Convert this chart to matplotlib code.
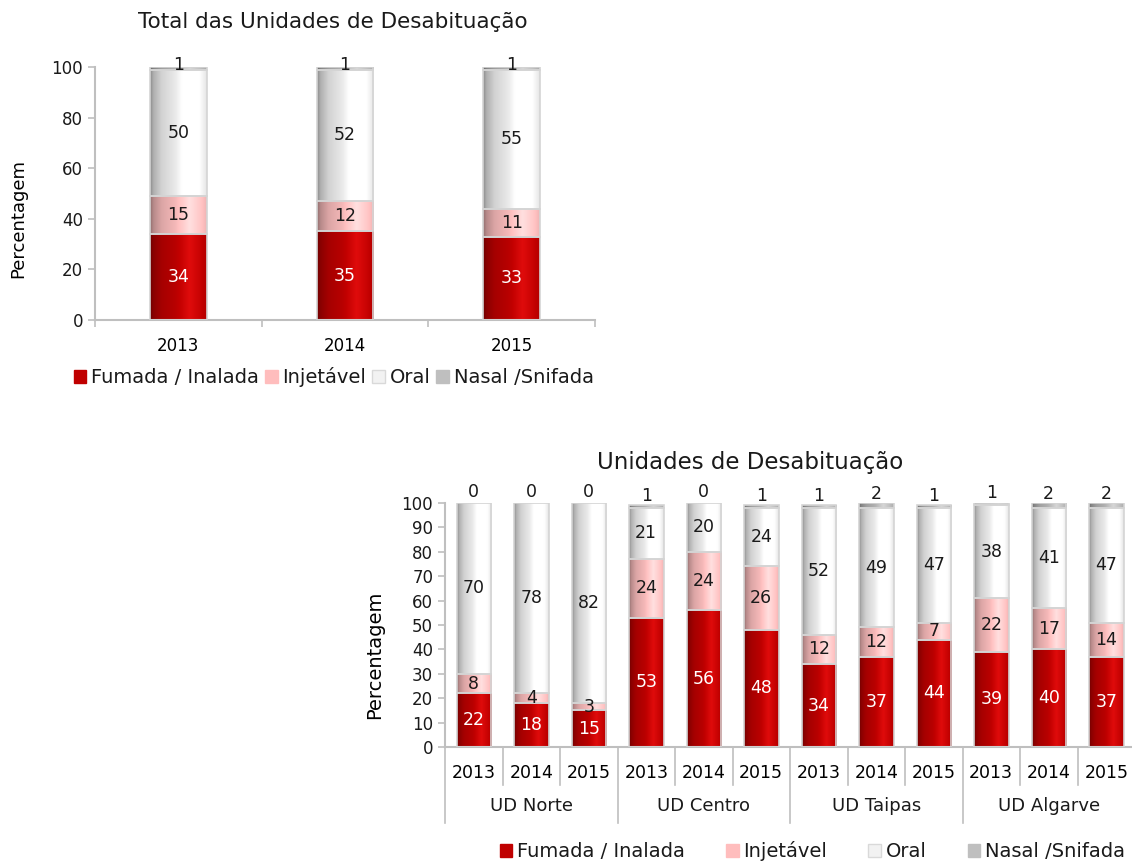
import numpy as np
import matplotlib.pyplot as plt
from matplotlib.patches import Patch, Rectangle
from matplotlib.colors import to_rgb

plt.rcParams['font.family'] = ['DejaVu Sans']
plt.rcParams['text.color'] = '#1a1a1a'

# ---- dados: total ----
anos_total = ['2013', '2014', '2015']
total_fumada = [34, 35, 33]
total_injetavel = [15, 12, 11]
total_oral = [50, 52, 55]
total_nasal = [1, 1, 1]

# ---- dados: por unidade ----
unidades = ['UD Norte', 'UD Centro', 'UD Taipas', 'UD Algarve']
anos_ud = ['2013', '2014', '2015'] * 4
ud_fumada = [22, 18, 15, 53, 56, 48, 34, 37, 44, 39, 40, 37]
ud_injetavel = [8, 4, 3, 24, 24, 26, 12, 12, 7, 22, 17, 14]
ud_oral = [70, 78, 82, 21, 20, 24, 52, 49, 47, 38, 41, 47]
ud_nasal = [0, 0, 0, 1, 0, 1, 1, 2, 1, 1, 2, 2]

series_names = ['Fumada / Inalada', 'Injetável', 'Oral', 'Nasal /Snifada']
base_colors = ['#c00000', '#ffc0c0', '#f4f4f4', '#b8b8b8']
legend_colors = ['#c00000', '#ffbdbd', '#f2f2f2', '#bfbfbf']
label_colors = ['white', '#1a1a1a', '#1a1a1a', '#1a1a1a']

# perfil de brilho do "cilindro" (esquerda escura -> realce -> borda)
prof_t = [0.0, 0.06, 0.2, 0.45, 0.7, 0.88, 1.0]
prof_f = [0.58, 0.72, 0.86, 0.96, 1.15, 1.04, 0.94]


def cyl_bar(ax, x, bottom, height, width, color):
    if height <= 0:
        return
    t = np.linspace(0, 1, 80)
    f = np.interp(t, prof_t, prof_f)[:, None]
    rgb = np.array(to_rgb(color))[None, :]
    img = np.clip(rgb * f, 0, 1) + np.clip(f - 1, 0, None) * 0.3 * (1 - rgb)
    img = np.clip(img, 0, 1)[None, :, :]
    x0, x1 = x - width / 2, x + width / 2
    ax.imshow(img, extent=(x0, x1, bottom, bottom + height), aspect='auto',
              interpolation='bilinear', zorder=2)
    ax.add_patch(Rectangle((x0, bottom), width, height, fill=False,
                           edgecolor='#d4d4d4', lw=1.2, zorder=3))


def stacked(ax, series, width, fs, nasal_off):
    n = len(series[0])
    bottoms = np.zeros(n)
    for k, vals in enumerate(series):
        for i, v in enumerate(vals):
            cyl_bar(ax, i, bottoms[i], v, width, base_colors[k])
            if k < 3:
                ax.text(i, bottoms[i] + v / 2, str(v), ha='center', va='center',
                        fontsize=fs, color=label_colors[k], zorder=5)
            else:
                ax.annotate(str(v), (i, bottoms[i] + v / 2), xytext=(0, nasal_off),
                            textcoords='offset points', ha='center', va='center',
                            fontsize=fs, color=label_colors[k], zorder=5,
                            annotation_clip=False)
        bottoms += np.array(vals)
    ax.set_xlim(-0.5, n - 0.5)
    ax.set_ylim(0, 100)


def style_axes(ax):
    for s in ['top', 'right']:
        ax.spines[s].set_visible(False)
    for s in ['left', 'bottom']:
        ax.spines[s].set_color('#bfbfbf')
        ax.spines[s].set_linewidth(1.5)
    ax.tick_params(axis='y', colors='#bfbfbf', labelcolor='#1a1a1a', labelsize=12,
                   length=5, width=1.2)


fig = plt.figure(figsize=(11.32, 8.61), dpi=100)
W, H = 1132, 861

# ===== grafico 1: total =====
ax1 = fig.add_axes([95 / W, 1 - 320 / H, 500 / W, 253 / H])
stacked(ax1, [total_fumada, total_injetavel, total_oral, total_nasal], 0.34, 12.5, 2)
style_axes(ax1)
ax1.set_yticks(range(0, 101, 20))
ax1.set_xticks(range(3))
ax1.set_xticklabels(anos_total)
ax1.set_xticks(np.arange(-0.5, 3, 1), minor=True)
ax1.tick_params(axis='x', which='major', length=0, labelsize=12, pad=12)
ax1.tick_params(axis='x', which='minor', length=5, width=1.2, colors='#bfbfbf')
ax1.set_ylabel('Percentagem', fontsize=13)
ax1.yaxis.set_label_coords(-0.136, 0.40)
fig.text(333 / W, 1 - 22 / H, 'Total das Unidades de Desabituação', fontsize=15.5,
         ha='center', va='center')
handles = [Patch(facecolor=c, edgecolor='#d9d9d9' if c == '#f2f2f2' else c)
           for c in legend_colors]
fig.legend(handles, series_names, loc='center left', bbox_to_anchor=(64 / W, 1 - 377 / H),
           ncol=4, frameon=False, fontsize=14, handlelength=0.65, handleheight=0.65,
           handletextpad=0.25, columnspacing=0.3, borderpad=0)

# ===== grafico 2: por unidade =====
ax2 = fig.add_axes([445 / W, 1 - 747 / H, 690 / W, 244 / H])
stacked(ax2, [ud_fumada, ud_injetavel, ud_oral, ud_nasal], 0.6, 12.5, 8)
style_axes(ax2)
ax2.set_yticks(range(0, 101, 10))
ax2.set_xticks(range(12))
ax2.set_xticklabels(anos_ud)
ax2.tick_params(axis='x', length=0, labelsize=12.5, pad=12)
ax2.set_ylabel('Percentagem', fontsize=14)
ax2.yaxis.set_label_coords(-0.088, 0.377)
fig.text(750 / W, 1 - 462 / H, 'Unidades de Desabituação', fontsize=16.5,
         ha='center', va='center')

tr = ax2.get_xaxis_transform()
for k in range(13):
    y_end = -0.31 if k % 3 == 0 else -0.155
    ax2.plot([k - 0.5, k - 0.5], [0, y_end], transform=tr, color='#bfbfbf',
             lw=1.2, clip_on=False)
for g, nome in enumerate(unidades):
    ax2.text(g * 3 + 1, -0.242, nome, transform=tr, ha='center', va='center',
             fontsize=13)

fig.legend(handles, series_names, loc='center left', mode='expand',
           bbox_to_anchor=(490 / W, 1 - 851 / H, 645 / W, 0),
           ncol=4, frameon=False, fontsize=14, handlelength=0.65, handleheight=0.65,
           handletextpad=0.25, borderpad=0)

fig.savefig('out.png', dpi=100)
